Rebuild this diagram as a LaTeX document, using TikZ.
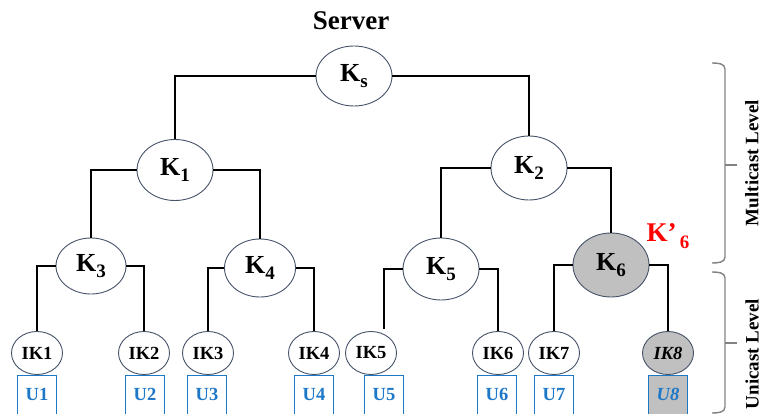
\documentclass[tikz,border=0pt]{standalone}
\usepackage{fontspec}
\setmainfont{Liberation Serif}
\usetikzlibrary{shapes.geometric}
\definecolor{rim}{RGB}{70,82,104}
\definecolor{ublue}{RGB}{30,120,200}
\definecolor{shade}{RGB}{192,192,192}
\definecolor{brk}{RGB}{130,130,130}
\newcommand\keysub[2]{#1\raisebox{-6.5pt}{\fontsize{19}{19}\selectfont #2}}
\tikzset{
  keynode/.style={ellipse, draw=rim, line width=0.9pt, inner sep=0pt,
    font=\fontsize{26}{26}\selectfont\bfseries, text=black},
  leafkey/.style={ellipse, draw=rim, line width=0.9pt, inner sep=0pt,
    minimum width=51pt, minimum height=43pt,
    font=\fontsize{18.5}{18.5}\selectfont\bfseries},
  userbox/.style={rectangle, draw=ublue, line width=1pt, inner sep=0pt,
    minimum width=39pt, minimum height=39pt, text=ublue,
    font=\fontsize{18.5}{18.5}\selectfont\bfseries},
  link/.style={line width=1.4pt, black},
  bracket/.style={line width=1.4pt, brk},
  levellabel/.style={rotate=90, font=\fontsize{19}{19}\selectfont\bfseries}
}
\begin{document}
\begin{tikzpicture}[x=1pt, y=-1pt]
\useasboundingbox (0,0) rectangle (762,414);

% server and group keys
\node[font=\fontsize{27}{27}\selectfont\bfseries] (server) at (351,21) {Server};
\node[keynode, minimum width=76pt, minimum height=60pt] (Ks) at (354,76) {\keysub{K}{s}};
\node[keynode, minimum width=76pt, minimum height=61pt] (K1) at (175,170) {\keysub{K}{1}};
\node[keynode, minimum width=76pt, minimum height=64pt] (K2) at (529,168) {\keysub{K}{2}};
\node[keynode, minimum width=70pt, minimum height=56pt] (K3) at (91,266) {\keysub{K}{3}};
\node[keynode, minimum width=71pt, minimum height=58pt] (K4) at (260,268) {\keysub{K}{4}};
\node[keynode, minimum width=76pt, minimum height=62pt] (K5) at (441,269) {\keysub{K}{5}};
\node[keynode, minimum width=76pt, minimum height=64pt, fill=shade] (K6) at (611,265) {\keysub{K}{6}};
\node[font=\fontsize{27}{27}\selectfont\bfseries, text=red] (K6new) at (668,236) {\keysub{K’}{\,6}};

% individual keys
\node[leafkey] (IK1) at (37,353) {IK1};
\node[leafkey] (IK2) at (144,353) {IK2};
\node[leafkey] (IK3) at (208,353) {IK3};
\node[leafkey] (IK4) at (314,353) {IK4};
\node[leafkey] (IK5) at (371,353) {IK5};
\node[leafkey] (IK6) at (498,353) {IK6};
\node[leafkey] (IK7) at (554,353) {IK7};
\node[leafkey, fill=shade, font=\fontsize{18.5}{18.5}\selectfont\bfseries\itshape] (IK8) at (668,353) {IK8};

% users
\node[userbox] (U1) at (37,394.5) {U1};
\node[userbox] (U2) at (145,394.5) {U2};
\node[userbox] (U3) at (207,394.5) {U3};
\node[userbox] (U4) at (314,394.5) {U4};
\node[userbox] (U5) at (384,394.5) {U5};
\node[userbox] (U6) at (497,394.5) {U6};
\node[userbox] (U7) at (554,394.5) {U7};
\node[userbox, fill=shade, font=\fontsize{18.5}{18.5}\selectfont\bfseries\itshape] (U8) at (668,394.5) {U8};

% tree links
\draw[link] (Ks.west) -| (K1.north);
\draw[link] (Ks.east) -| (K2.north);
\draw[link] (K1.west) -| (K3.north);
\draw[link] (K1.east) -| (K4.north);
\draw[link] (K2.west) -| (K5.north);
\draw[link] (K2.east) -| (K6.north);
\draw[link] (K3.west) -| (IK1.north);
\draw[link] (K3.east) -| (IK2.north);
\draw[link] (K4.west) -| (IK3.north);
\draw[link] (K4.east) -| (IK4.north);
\draw[link] (K5.west) -| ([yshift=2pt]IK5.north -| U5.north);
\draw[link] (K5.east) -| (IK6.north);
\draw[link] (K6.west) -| (IK7.north);
\draw[link] (K6.east) -| (IK8.north);

% level brackets
\coordinate (mtop) at (712,63);
\coordinate (mbot) at (712,263);
\coordinate (mtip) at (737,165);
\coordinate (utop) at (712,272);
\coordinate (ubot) at (712,413);
\coordinate (utip) at (737,343);
\draw[bracket] (mtop) to[out=0,in=90] (725,69) -- (725,257) to[out=-90,in=0] (mbot);
\draw[bracket] (725,165) -- (mtip);
\draw[bracket] (utop) to[out=0,in=90] (725,278) -- (725,407) to[out=-90,in=0] (ubot);
\draw[bracket] (725,343) -- (utip);

\node[levellabel] (mlabel) at (752,163) {Multicast Level};
\node[levellabel] (ulabel) at (752,354) {Unicast Level};
\end{tikzpicture}
\end{document}
